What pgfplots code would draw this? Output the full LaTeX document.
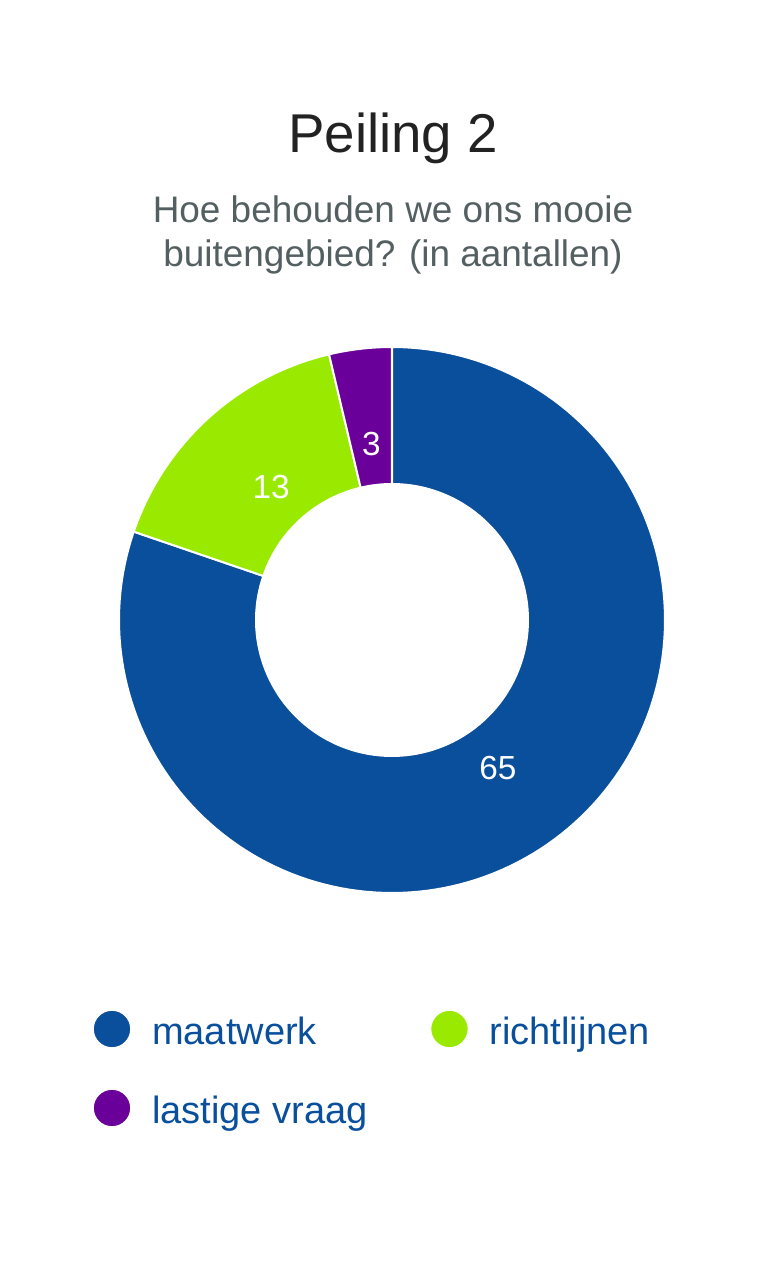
\documentclass[border=0pt]{standalone}
\usepackage{pgfplots}
\pgfplotsset{compat=1.18}
\usepackage{pgfplotstable}
\usepackage{fontspec}
\setmainfont{Liberation Sans}
\definecolor{cblue}{HTML}{0A4F9C}
\definecolor{cgreen}{HTML}{99EA00}
\definecolor{cpurple}{HTML}{6A0099}
\definecolor{ctitle}{HTML}{222222}
\definecolor{csub}{HTML}{545F61}

\pgfplotstableread[col sep=comma]{
label,value
maatwerk,65
richtlijnen,13
lastige vraag,3
}\slices

\begin{document}
\begin{tikzpicture}
\pgfplotstablegetelem{0}{value}\of\slices \edef\va{\pgfplotsretval}
\pgfplotstablegetelem{1}{value}\of\slices \edef\vb{\pgfplotsretval}
\pgfplotstablegetelem{2}{value}\of\slices \edef\vc{\pgfplotsretval}
\pgfmathsetmacro\tot{\va+\vb+\vc}
\pgfmathsetmacro\aA{90}
\pgfmathsetmacro\aB{90-360*(\va/\tot)}
\pgfmathsetmacro\aC{\aB-360*(\vb/\tot)}
\pgfmathsetmacro\aD{\aC-360*(\vc/\tot)}
\pgfmathsetmacro\mA{(\aA+\aB)/2}
\pgfmathsetmacro\mB{(\aB+\aC)/2}
\pgfmathsetmacro\mC{(\aC+\aD)/2}
\path[use as bounding box] (0,0) rectangle (585pt,948pt);
\begin{axis}[
  at={(0,0)}, anchor=south west,
  width=585pt, height=948pt, scale only axis,
  xmin=0, xmax=780, ymin=0, ymax=1264,
  hide axis, clip=false,
  title={Peiling 2},
  title style={at={(0.50385,0.87263)}, anchor=base, inner sep=0pt,
    font=\fontsize{41}{48}\selectfont, text=ctitle},
  legend columns=2,
  legend cell align=left,
  legend image code/.code={%
    \path (0pt,0pt) rectangle (28.5pt,0pt);
    \fill[overlay] (14.25pt,3.75pt) circle (14.4pt);},
  legend style={at={(0.11795,0.19620)}, anchor=north west,
    draw=none, fill=none, inner sep=0pt, outer sep=0pt,
    font=\fontsize{28.5}{34}\selectfont, text=cblue,
    column sep=15.1pt, row sep=32.25pt,
    nodes={inner sep=0pt, text height=21pt, text depth=6pt},
    /tikz/every even column/.append style={column sep=46.4pt}},
]
\addplot[fill=cblue, draw=white, line width=1.5pt, domain=\aB:\aA, samples=160]
  ({392+273*cos(x)},{644+273*sin(x)}) -- (axis cs:392,644) -- cycle;
\addlegendentry{maatwerk}
\addplot[fill=cgreen, draw=white, line width=1.5pt, domain=\aC:\aB, samples=60]
  ({392+273*cos(x)},{644+273*sin(x)}) -- (axis cs:392,644) -- cycle;
\addlegendentry{richtlijnen}
\addplot[fill=cpurple, draw=white, line width=1.5pt, domain=\aD:\aC, samples=30]
  ({392+273*cos(x)},{644+273*sin(x)}) -- (axis cs:392,644) -- cycle;
\addlegendentry{lastige vraag}
\addplot[fill=white, draw=none, domain=0:360, samples=160, forget plot]
  ({392+137*cos(x)},{644+137*sin(x)}) -- cycle;
\node[anchor=base, text=csub, font=\fontsize{27.7}{32.5}\selectfont]
  at (axis cs:393,1041) {Hoe behouden we ons mooie};
\node[anchor=base, text=csub, font=\fontsize{27.7}{32.5}\selectfont]
  at (axis cs:393,997.5) {buitengebied? (in aantallen)};
\node[text=white, font=\fontsize{25}{30}\selectfont]
  at (axis cs:{392+182*cos(\mA)},{644+182*sin(\mA)}) {\va};
\node[text=white, font=\fontsize{25}{30}\selectfont]
  at (axis cs:{392+180*cos(\mB)},{644+180*sin(\mB)}) {\vb};
\node[text=white, font=\fontsize{25}{30}\selectfont]
  at (axis cs:{392+177*cos(\mC)},{644+177*sin(\mC)}) {\vc};
\end{axis}
\end{tikzpicture}
\end{document}
